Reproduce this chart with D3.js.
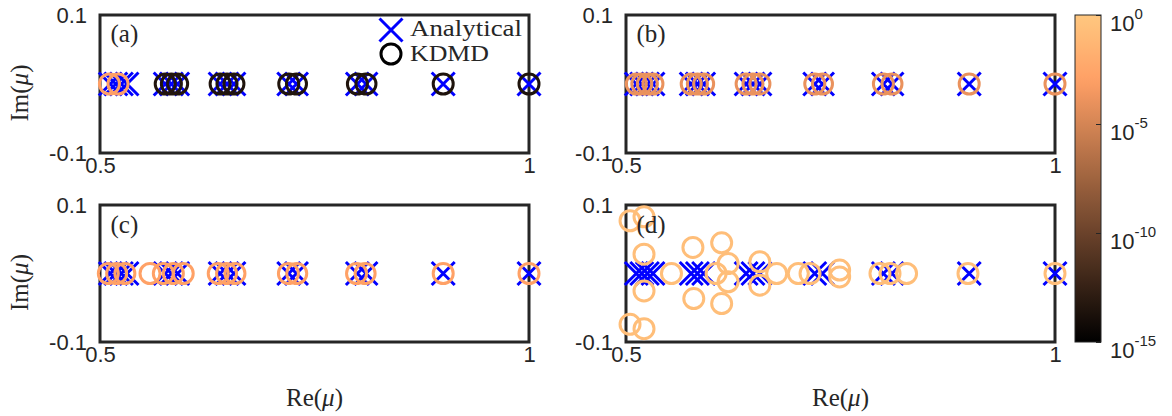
<!DOCTYPE html>
<html><head><meta charset="utf-8">
<script src="https://cdn.jsdelivr.net/npm/d3@7"></script>
<style>
html,body{margin:0;padding:0;background:#fff;}
svg text{fill:#262626;}
.serif{font-family:"Liberation Serif","Times New Roman",serif;}
.sans{font-family:"Liberation Sans",Arial,Helvetica,sans-serif;}
</style></head>
<body>
<svg id="chart" width="1172" height="416"></svg>
<script>
// ---------- data ----------
const xTicks = [0.5, 1];
const xTickLabels = ["0.5", "1"];
const yTicks = [-0.1, 0.1];
const yTickLabels = ["-0.1", "0.1"];
const cbTicks = [0, -5, -10, -15];          // log10 of colour value
const cbTickExp = ["0", "-5", "-10", "-15"];
const panelLabels = ["(a)", "(b)", "(c)", "(d)"];
const legendLabels = ["Analytical", "KDMD"];

// analytical eigenvalues
const anRe = [1, 0.9, 0.81, 0.8, 0.729, 0.72, 0.6561, 0.648, 0.64, 0.59049, 0.5832, 0.576, 0.531441, 0.52488, 0.5184, 0.512];
const anIm = [0, 0, 0, 0, 0, 0, 0, 0, 0, 0, 0, 0, 0, 0, 0, 0];

// KDMD eigenvalues: real part, imaginary part, log10(error)
const aRe  = [1, 0.9, 0.81, 0.8, 0.729, 0.72, 0.6561, 0.648, 0.64, 0.5905, 0.5832, 0.576, 0.521, 0.511];
const aIm  = [0, 0, 0, 0, 0, 0, 0, 0, 0, 0, 0, 0, 0, 0];
const aErr = [-13.6, -13.6, -13.5, -13.5, -13.5, -13.5, -13.5, -13.5, -13.5, -13.4, -13.4, -13.4, -3.0, -3.0];

const bRe  = [1, 0.9, 0.81, 0.8, 0.729, 0.72, 0.6561, 0.648, 0.64, 0.5905, 0.5832, 0.576, 0.5314, 0.5249, 0.5184, 0.512];
const bIm  = [0, 0, 0, 0, 0, 0, 0, 0, 0, 0, 0, 0, 0, 0, 0, 0];
const bErr = [-4.0, -4.0, -4.0, -4.0, -4.0, -4.0, -4.0, -4.0, -4.0, -4.0, -4.0, -4.0, -4.0, -4.0, -4.0, -4.0];

const cRe  = [1, 0.9, 0.809, 0.799, 0.7293, 0.7196, 0.6573, 0.6475, 0.6378, 0.597, 0.5855, 0.5738, 0.5583, 0.529, 0.5194, 0.5097];
const cIm  = [0, 0, 0, 0, 0, 0, 0, 0, 0, 0, 0, 0, 0, 0, 0, 0];
const cErr = [-2.9, -2.9, -2.9, -2.9, -2.9, -2.9, -2.9, -2.9, -2.9, -2.9, -2.9, -2.9, -2.9, -2.9, -2.9, -2.9];

const dRe  = [1.0, 0.8986, 0.827, 0.8077, 0.796, 0.749, 0.749, 0.7145, 0.7008, 0.6756, 0.656, 0.656, 0.619, 0.619, 0.6115, 0.6115, 0.605, 0.579, 0.578, 0.553, 0.521, 0.521, 0.521, 0.521, 0.5047, 0.5047];
const dIm  = [0, 0, 0, 0, 0, 0.005, -0.005, 0, 0, 0, 0.017, -0.017, 0.0146, -0.0122, 0.0448, -0.0439, 0, -0.0366, 0.038, 0, 0.0828, 0.0282, -0.0254, -0.0805, 0.077, -0.0742];
const dErr = [-0.7, -0.7, -0.7, -0.7, -0.7, -0.7, -0.7, -0.7, -0.7, -0.7, -0.7, -0.7, -0.7, -0.7, -0.7, -0.7, -0.7, -0.7, -0.7, -0.7, -0.7, -0.7, -0.7, -0.7, -0.7, -0.7];

// ---------- helpers ----------
function copper(t){
  t = Math.max(0, Math.min(1, t));
  return d3.rgb(255*Math.min(1,1.25*t), 255*0.7812*t, 255*0.4975*t).formatHex();
}
const cScale = d3.scaleLinear().domain([-15, 0]).range([0, 1]);

const svg = d3.select("#chart");
const panels = [
  {x0:100, x1:529, yt:15,  yb:153, re:aRe, im:aIm, err:aErr, label:panelLabels[0], leftCol:true,  bottom:false},
  {x0:626, x1:1055, yt:15, yb:153, re:bRe, im:bIm, err:bErr, label:panelLabels[1], leftCol:false, bottom:false},
  {x0:100, x1:529, yt:205, yb:342, re:cRe, im:cIm, err:cErr, label:panelLabels[2], leftCol:true,  bottom:true},
  {x0:626, x1:1055, yt:205, yb:342, re:dRe, im:dIm, err:dErr, label:panelLabels[3], leftCol:false, bottom:true}
];
const crossH = 11.5;
const crossPath = `M${-crossH},${-crossH}L${crossH},${crossH}M${-crossH},${crossH}L${crossH},${-crossH}`;

panels.forEach((p, pi) => {
  const x = d3.scaleLinear().domain([0.5, 1]).range([p.x0, p.x1]);
  const y = d3.scaleLinear().domain([-0.1, 0.1]).range([p.yb, p.yt]);
  const g = svg.append("g");

  // axes
  const xa = g.append("g").attr("transform", `translate(0,${p.yb})`)
    .call(d3.axisBottom(x).tickValues(xTicks).tickFormat((d,i)=>xTickLabels[i]).tickSize(-5).tickPadding(4));
  const ya = g.append("g").attr("transform", `translate(${p.x0},0)`)
    .call(d3.axisLeft(y).tickValues(yTicks).tickFormat((d,i)=>yTickLabels[i]).tickSize(-5).tickPadding(13));
  [xa, ya].forEach(a => {
    a.attr("font-family", null);
    a.select(".domain").remove();
    a.selectAll("line").attr("stroke", "#262626").attr("stroke-width", 1);
    a.selectAll("text").attr("class", "sans").style("font-size", "22px").attr("fill", "#262626");
  });

  // box
  g.append("rect").attr("x", p.x0).attr("y", p.yt).attr("width", p.x1 - p.x0).attr("height", p.yb - p.yt)
    .attr("fill", "none").attr("stroke", "#262626").attr("stroke-width", 3);

  // analytical crosses
  g.append("g").selectAll("path").data(anRe).join("path")
    .attr("d", crossPath)
    .attr("transform", (d,i) => `translate(${x(d)},${y(anIm[i])})`)
    .attr("fill", "none").attr("stroke", "#0000ff").attr("stroke-width", 3);

  // KDMD circles
  g.append("g").selectAll("circle").data(p.re).join("circle")
    .attr("cx", d => x(d)).attr("cy", (d,i) => y(p.im[i])).attr("r", 10)
    .attr("fill", "none").attr("stroke-width", 3)
    .attr("stroke", (d,i) => copper(cScale(p.err[i])));

  // panel label
  g.append("text").attr("class", "serif").attr("x", p.x0 + 10.5).attr("y", p.yt + (pi < 2 ? 26.5 : 27.5))
    .style("font-size", "25px").text(p.label);

  // axis labels
  if (p.leftCol) {
    const cy = (p.yt + p.yb) / 2 + 9;
    const t = g.append("text").attr("class", "serif").attr("text-anchor", "middle")
      .attr("transform", `translate(28,${cy}) rotate(-90)`).style("font-size", "25px");
    t.append("tspan").text("Im(");
    t.append("tspan").style("font-style", "italic").text("μ");
    t.append("tspan").text(")");
  }
  if (p.bottom) {
    const t = g.append("text").attr("class", "serif").attr("text-anchor", "middle")
      .attr("x", (p.x0 + p.x1) / 2).attr("y", 406).style("font-size", "25px");
    t.append("tspan").text("Re(");
    t.append("tspan").style("font-style", "italic").text("μ");
    t.append("tspan").text(")");
  }

  // legend in panel (a)
  if (pi === 0) {
    const lg = g.append("g");
    lg.append("path").attr("d", crossPath).attr("transform", "translate(391,30)")
      .attr("fill", "none").attr("stroke", "#0000ff").attr("stroke-width", 3);
    lg.append("circle").attr("cx", 391).attr("cy", 54).attr("r", 10)
      .attr("fill", "none").attr("stroke", copper(0)).attr("stroke-width", 3);
    lg.append("text").attr("class", "serif").attr("x", 410).attr("y", 36).style("font-size", "24px")
      .attr("textLength", 112).attr("lengthAdjust", "spacingAndGlyphs").text(legendLabels[0]);
    lg.append("text").attr("class", "serif").attr("x", 410).attr("y", 61).style("font-size", "24px")
      .attr("textLength", 79).attr("lengthAdjust", "spacingAndGlyphs").text(legendLabels[1]);
  }
});

// ---------- colorbar ----------
const cbX = 1075, cbW = 26, cbTop = 15, cbBot = 342;
const defs = svg.append("defs");
const grad = defs.append("linearGradient").attr("id", "copper").attr("x1", 0).attr("y1", 1).attr("x2", 0).attr("y2", 0);
d3.range(0, 1.0001, 1/32).forEach(t => {
  grad.append("stop").attr("offset", t).attr("stop-color", copper(t));
});
svg.append("rect").attr("x", cbX).attr("y", cbTop).attr("width", cbW).attr("height", cbBot - cbTop)
  .attr("fill", "url(#copper)").attr("stroke", "#262626").attr("stroke-width", 1);
const cbY = d3.scaleLinear().domain([-15, 0]).range([cbBot, cbTop]);
const cbAxis = svg.append("g").attr("transform", `translate(${cbX + cbW},0)`)
  .call(d3.axisRight(cbY).tickValues(cbTicks).tickSize(-5).tickPadding(9).tickFormat(""));
cbAxis.attr("font-family", null);
cbAxis.select(".domain").remove();
cbAxis.selectAll("line").attr("stroke", "#262626");
cbAxis.selectAll(".tick").each(function(d, i){
  const t = d3.select(this).select("text");
  t.attr("class", "sans").attr("dy", null).attr("y", 15).style("font-size", "22px").attr("fill", "#262626");
  t.text(null);
  t.append("tspan").text("10");
  t.append("tspan").attr("dy", -12).style("font-size", "15px").text(cbTickExp[i]);
});
</script>
</body></html>
